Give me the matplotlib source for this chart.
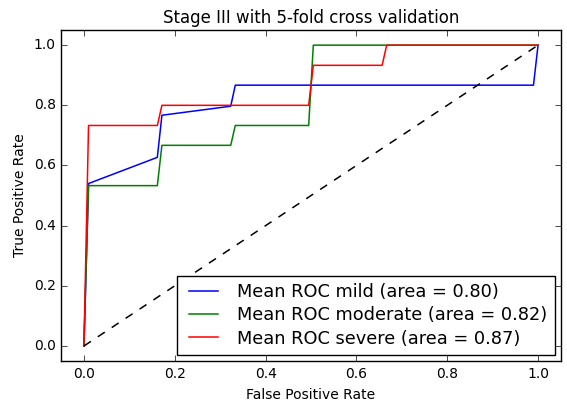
import matplotlib
matplotlib.use("Agg")
import matplotlib.pyplot as plt

# mean ROC curves
fpr_mild = [0.0, 0.0101, 0.1616, 0.1717, 0.3232, 0.3333, 0.9899, 1.0]
tpr_mild = [0.0, 0.54, 0.627, 0.767, 0.797, 0.867, 0.867, 1.0]

fpr_moderate = [0.0, 0.0101, 0.1616, 0.1717, 0.3232, 0.3333, 0.4949, 0.5051, 1.0]
tpr_moderate = [0.0, 0.533, 0.533, 0.667, 0.667, 0.733, 0.733, 1.0, 1.0]

fpr_severe = [0.0, 0.0101, 0.1616, 0.1717, 0.4949, 0.5051, 0.6566, 0.6667, 1.0]
tpr_severe = [0.0, 0.733, 0.733, 0.8, 0.8, 0.933, 0.933, 1.0, 1.0]

auc_mild, auc_moderate, auc_severe = 0.80, 0.82, 0.87

plt.style.use("classic")
fig = plt.figure(figsize=(5.67, 4.07), dpi=100, facecolor="white")
ax = fig.add_axes([0.108, 0.113, 0.881, 0.813])

ax.plot(fpr_mild, tpr_mild, color="b", lw=1.1,
        label=f"Mean ROC mild (area = {auc_mild:.2f})")
ax.plot(fpr_moderate, tpr_moderate, color="g", lw=1.1,
        label=f"Mean ROC moderate (area = {auc_moderate:.2f})")
ax.plot(fpr_severe, tpr_severe, color="r", lw=1.1,
        label=f"Mean ROC severe (area = {auc_severe:.2f})")
ax.plot([0, 1], [0, 1], "k--", lw=1.1)

ax.set_xlim(-0.05, 1.05)
ax.set_ylim(-0.05, 1.05)
ax.tick_params(labelsize=10)
ax.set_xlabel("False Positive Rate", fontsize=10)
ax.set_ylabel("True Positive Rate", fontsize=10)
ax.set_title("Stage III with 5-fold cross validation", fontsize=12)
ax.legend(loc="lower right", fontsize=12.8, borderaxespad=0.35,
          handlelength=2.2, labelspacing=0.3)

fig.savefig("out.png", dpi=100, facecolor="white")
